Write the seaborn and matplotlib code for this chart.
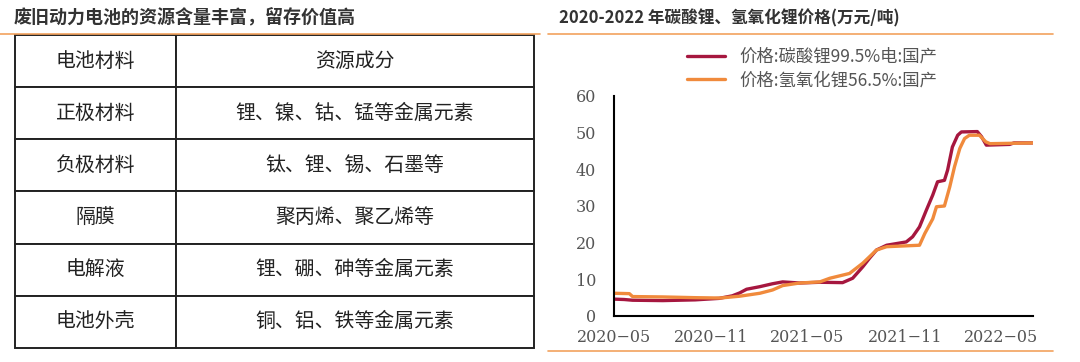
import pandas as pd
import matplotlib.pyplot as plt
import seaborn as sns
from matplotlib.lines import Line2D

# 表格内容
table_header = ["电池材料", "资源成分"]
table_materials = ["正极材料", "负极材料", "隔膜", "电解液", "电池外壳"]
table_resources = [
    "锂、镍、钴、锰等金属元素",
    "钛、锂、锡、石墨等",
    "聚丙烯、聚乙烯等",
    "锂、硼、砷等金属元素",
    "铜、铝、铁等金属元素",
]

# 碳酸锂价格 (万元/吨)
li2co3_dates = [
    "2020-05-01", "2020-05-20", "2020-06-05", "2020-08-01", "2020-10-01",
    "2020-11-15", "2020-12-10", "2020-12-24", "2021-01-06", "2021-01-31",
    "2021-02-24", "2021-03-15", "2021-04-16", "2021-05-24", "2021-07-06",
    "2021-07-25", "2021-08-13", "2021-08-26", "2021-09-08", "2021-09-27",
    "2021-11-03", "2021-11-15", "2021-11-28", "2021-12-11", "2021-12-23",
    "2022-01-01", "2022-01-14", "2022-01-20", "2022-01-29", "2022-02-08",
    "2022-02-15", "2022-03-17", "2022-03-25", "2022-04-03", "2022-05-17",
    "2022-05-25", "2022-06-29",
]
li2co3_price = [
    4.6, 4.5, 4.3, 4.2, 4.4,
    4.8, 5.5, 6.3, 7.3, 8.0,
    8.8, 9.3, 9.0, 9.2, 9.1,
    10.3, 13.4, 15.8, 18.0, 19.3,
    20.2, 21.6, 24.3, 28.9, 33.0,
    36.6, 37.0, 39.8, 46.1, 49.3,
    50.2, 50.3, 48.9, 46.6, 46.8,
    47.2, 47.2,
]

# 氢氧化锂价格 (万元/吨)
lioh_dates = [
    "2020-05-01", "2020-05-30", "2020-06-05", "2020-08-01", "2020-10-01",
    "2020-11-17", "2020-12-24", "2021-01-31", "2021-02-24", "2021-03-15",
    "2021-04-16", "2021-05-24", "2021-06-12", "2021-07-19", "2021-08-13",
    "2021-09-08", "2021-09-27", "2021-11-28", "2021-12-08", "2021-12-23",
    "2021-12-30", "2022-01-14", "2022-01-24", "2022-02-02", "2022-02-12",
    "2022-02-21", "2022-03-02", "2022-03-21", "2022-04-02", "2022-04-10",
    "2022-06-29",
]
lioh_price = [
    6.2, 6.1, 5.3, 5.2, 5.0,
    4.9, 5.4, 6.2, 7.1, 8.3,
    9.0, 9.3, 10.3, 11.6, 14.4,
    18.0, 18.9, 19.3, 22.5, 26.5,
    29.8, 30.0, 35.2, 40.7, 45.7,
    48.4, 49.3, 49.3, 47.5, 47.0,
    47.2,
]

series_names = ["价格:碳酸锂99.5%电:国产", "价格:氢氧化锂56.5%:国产"]
x_ticks = ["2020-05", "2020-11", "2021-05", "2021-11", "2022-05"]
y_ticks = [0, 10, 20, 30, 40, 50, 60]

df = pd.concat([
    pd.DataFrame({"date": pd.to_datetime(li2co3_dates), "price": li2co3_price,
                  "series": series_names[0]}),
    pd.DataFrame({"date": pd.to_datetime(lioh_dates), "price": lioh_price,
                  "series": series_names[1]}),
])

sns.set_style("white")
plt.rcParams["font.family"] = ["Noto Sans CJK SC", "DejaVu Sans"]

W, H = 1080, 362
fig = plt.figure(figsize=(10.8, 3.62), dpi=100)

orange = "#F2A25E"
# 标题
fig.text(14 / W, 1 - 18 / H, "废旧动力电池的资源含量丰富，留存价值高",
         fontsize=13, fontweight="bold", color="#333333", va="center", ha="left")
fig.text(559 / W, 1 - 18 / H, "2020-2022 年碳酸锂、氢氧化锂价格(万元/吨)",
         fontsize=12, fontweight="bold", color="#333333", va="center", ha="left")
fig.add_artist(Line2D([0, 540 / W], [1 - 34 / H] * 2, color=orange, lw=1.2))
fig.add_artist(Line2D([548 / W, 1053 / W], [1 - 34 / H] * 2, color=orange, lw=1.2))
fig.add_artist(Line2D([548 / W, 1053 / W], [1 - 351 / H] * 2, color=orange, lw=1.2))

# 左侧表格
ax_tab = fig.add_axes([15 / W, 1 - 348 / H, (534 - 15) / W, (348 - 35) / H])
ax_tab.axis("off")
cells = [[m, r] for m, r in zip(table_materials, table_resources)]
tab = ax_tab.table(cellText=cells, colLabels=table_header,
                   colWidths=[161 / 519, 358 / 519], cellLoc="center",
                   bbox=[0, 0, 1, 1])
tab.auto_set_font_size(False)
for key, cell in tab.get_celld().items():
    cell.set_edgecolor("#222222")
    cell.set_linewidth(1.4)
    cell.set_facecolor("white")
    cell.get_text().set_fontsize(14.3)
    cell.get_text().set_color("#222222")

# 右侧折线图
ax = fig.add_axes([614 / W, 1 - 316 / H, (1033 - 614) / W, (316 - 96) / H])
palette = {series_names[0]: "#A6173F", series_names[1]: "#F08A3C"}
sns.lineplot(data=df, x="date", y="price", hue="series", hue_order=series_names,
             palette=palette, linewidth=2.4, ax=ax)

ax.set_xlim(pd.Timestamp("2020-05-01"), pd.Timestamp("2022-06-30"))
ax.set_ylim(0, 60)
ax.set_xticks(pd.to_datetime([t + "-01" for t in x_ticks]))
ax.set_xticklabels([t.replace("-", "\u2212") for t in x_ticks])
ax.set_yticks(y_ticks)
ax.set_yticklabels([str(v) for v in y_ticks])
ax.set_xlabel("")
ax.set_ylabel("")
for lab in ax.get_xticklabels() + ax.get_yticklabels():
    lab.set_family("DejaVu Serif")
    lab.set_fontsize(11.5)
    lab.set_color("#555555")
ax.tick_params(axis="both", direction="out", length=4, width=1.2, color="black")
ax.tick_params(axis="x", pad=5)
ax.tick_params(axis="y", pad=9)
for side in ["top", "right"]:
    ax.spines[side].set_visible(False)
for side in ["left", "bottom"]:
    ax.spines[side].set_color("black")
    ax.spines[side].set_linewidth(1.5)

ax.legend(loc="upper left", bbox_to_anchor=(687 / W, 1 - 48 / H),
          bbox_transform=fig.transFigure, frameon=False, borderpad=0,
          borderaxespad=0, handlelength=2.2, handletextpad=0.8,
          labelspacing=0.3, prop={"size": 12.5}, labelcolor="#555555")

plt.savefig("out.png", dpi=100)
